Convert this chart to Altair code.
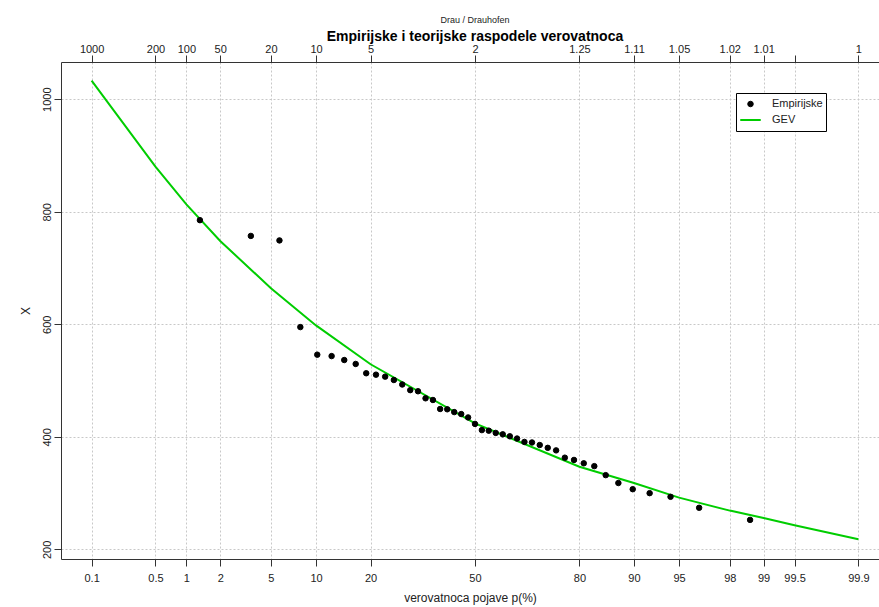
import statistics
import altair as alt
import pandas as pd

# ---- data ----
emp_p = [1.33, 3.54, 5.75, 7.96, 10.18, 12.39, 14.60, 16.81, 19.03, 21.24, 23.45, 25.66,
         27.88, 30.09, 32.30, 34.51, 36.73, 38.94, 41.15, 43.36, 45.58, 47.79, 50.00,
         52.21, 54.42, 56.64, 58.85, 61.06, 63.27, 65.49, 67.70, 69.91, 72.12, 74.34,
         76.55, 78.76, 80.97, 83.19, 85.40, 87.61, 89.82, 92.04, 94.25, 96.46, 98.67]
emp_x = [785, 757, 749, 595, 546, 543.5, 536.5, 529.5, 513, 510.5, 507, 501, 493, 483,
         481, 468.5, 465.5, 449.5, 449, 444, 440.5, 434.5, 423, 412, 411, 407, 404.5,
         401, 397, 391, 390, 385.5, 380.5, 376, 363, 359, 353, 348, 332, 318, 307, 300,
         293.5, 274, 252.5]
gev_p = [0.1, 0.5, 1, 2, 5, 10, 20, 50, 80, 90, 95, 98, 99, 99.5, 99.9]
gev_x = [1033, 880, 813, 748, 664, 598, 529, 424, 347, 318, 292, 269, 256, 243, 218]

p_ticks = [0.1, 0.5, 1, 2, 5, 10, 20, 50, 80, 90, 95, 98, 99, 99.5, 99.9]
p_labels = ["0.1", "0.5", "1", "2", "5", "10", "20", "50", "80", "90", "95", "98", "99",
            "99.5", "99.9"]
t_labels = ["1000", "200", "100", "50", "20", "10", "5", "2", "1.25", "1.11", "1.05",
            "1.02", "1.01", "", "1"]
y_ticks = [200, 400, 600, 800, 1000]
series_names = ["Empirijske", "GEV"]

# ---- normal-probability scale helper ----
nd = statistics.NormalDist()
zt = [nd.inv_cdf(p / 100) for p in p_ticks]

emp = pd.DataFrame({"p": emp_p, "x": emp_x})
emp["z"] = [nd.inv_cdf(p / 100) for p in emp_p]
emp["series"] = "Empirijske"
gev = pd.DataFrame({"p": gev_p, "x": gev_x})
gev["z"] = [nd.inv_cdf(p / 100) for p in gev_p]


def label_expr(labels):
    parts = [f"abs(datum.value - ({zv:.6f})) < 0.001 ? '{lab}' : "
             for zv, lab in zip(zt, labels)]
    return "".join(parts) + "''"


FONT = "Liberation Sans"
TXT = "#222222"
GREEN = "#00cd00"

xscale = alt.Scale(domain=[-3.337, 3.2565], nice=False, zero=False)
yscale = alt.Scale(domain=[183, 1066], nice=False, zero=False)

yaxis = alt.Axis(values=y_ticks, format="d", title="X", labelAngle=270,
                 labelAlign="center", labelBaseline="alphabetic", labelPadding=4,
                 tickSize=7, grid=True, titlePadding=9)

line = alt.Chart(gev).mark_line(color=GREEN, strokeWidth=2).encode(
    x=alt.X("z:Q", scale=xscale,
            axis=alt.Axis(orient="top", values=zt, labelExpr=label_expr(t_labels),
                          title=None, grid=False, tickSize=7, labelPadding=1,
                          labelFlush=False, labelOverlap=False)),
    y=alt.Y("x:Q", scale=yscale, axis=yaxis),
    order="p:Q",
)

points = alt.Chart(emp).mark_point(filled=False, opacity=1).encode(
    x=alt.X("z:Q", scale=xscale,
            axis=alt.Axis(orient="bottom", values=zt, labelExpr=label_expr(p_labels),
                          title="verovatnoca pojave p(%)", grid=True, tickSize=7,
                          labelPadding=6, titlePadding=9, labelFlush=False,
                          labelOverlap=False)),
    y=alt.Y("x:Q", scale=yscale, axis=yaxis),
    color=alt.Color("series:N", title=None,
                    scale=alt.Scale(domain=series_names, range=["black", GREEN])),
    fill=alt.Fill("series:N", title=None,
                  scale=alt.Scale(domain=series_names, range=["black", "transparent"])),
    shape=alt.Shape("series:N", title=None,
                    scale=alt.Scale(domain=series_names, range=["circle", "stroke"])),
    size=alt.Size("series:N", title=None,
                  scale=alt.Scale(domain=series_names, range=[30, 420])),
    strokeWidth=alt.StrokeWidth("series:N", title=None,
                                scale=alt.Scale(domain=series_names, range=[1, 2])),
)

chart = alt.layer(line, points).resolve_axis(x="independent").properties(
    width=818,
    height=497,
    padding={"left": 61, "top": 62, "right": 0, "bottom": 48},
    autosize=alt.AutoSizeParams(type="none"),
    title=alt.Title(text="Drau / Drauhofen",
                    subtitle="Empirijske i teorijske raspodele verovatnoca",
                    fontSize=9, fontWeight="normal", font=FONT, color=TXT,
                    subtitleFont=FONT, subtitleFontSize=14, subtitleFontWeight="bold",
                    subtitleColor="black", subtitlePadding=5, anchor="middle",
                    dx=5, dy=2, offset=1),
).configure(font=FONT, background="white").configure_view(stroke=None).configure_axis(
    domainColor="#333333", tickColor="#333333", labelColor=TXT, labelFont=FONT,
    labelFontSize=11, titleFont=FONT, titleFontSize=12, titleFontWeight="normal",
    titleColor=TXT, gridColor="#c8c8c8", gridDash=[2, 2], gridWidth=1,
).configure_legend(
    orient="none", legendX=675, legendY=31, strokeColor="black", fillColor="white",
    padding=3, labelOffset=10, rowPadding=0, clipHeight=16, labelFontSize=11,
    labelFont=FONT, labelColor=TXT, cornerRadius=0,
)

chart.save("out.html", embed_options={"renderer": "svg", "actions": False})
